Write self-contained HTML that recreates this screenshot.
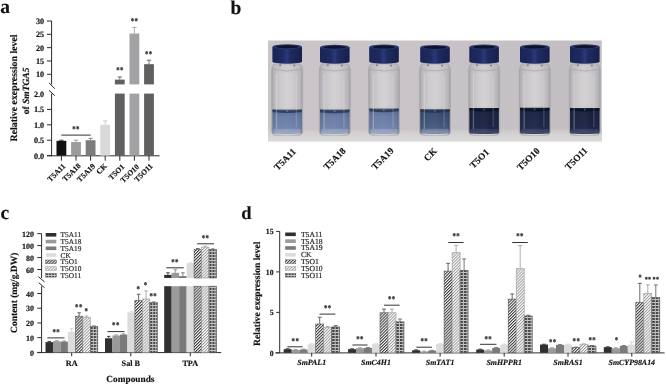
<!DOCTYPE html>
<html><head><meta charset="utf-8"><title>Figure</title>
<style>
html,body{margin:0;padding:0;background:#fff;}
svg{display:block;font-family:'Liberation Serif', serif;text-rendering:geometricPrecision;filter:blur(0.3px);}
svg text{stroke:#1a1a1a;stroke-width:0.16px;}
</style></head><body>
<svg width="666" height="385" viewBox="0 0 666 385">
<defs>
<pattern id="h1" patternUnits="userSpaceOnUse" width="2.1" height="2.1" patternTransform="rotate(45)"><rect width="2.1" height="2.1" fill="#f4f4f4"/><rect width="1.0" height="2.1" fill="#3a3a3a"/></pattern>
<pattern id="h2" patternUnits="userSpaceOnUse" width="2.1" height="2.1" patternTransform="rotate(45)"><rect width="2.1" height="2.1" fill="#f8f8f8"/><rect width="0.9" height="2.1" fill="#9a9a9a"/></pattern>
<pattern id="h3" patternUnits="userSpaceOnUse" width="2.6" height="3.0"><rect width="2.6" height="3.0" fill="#a4a4a4"/><rect x="0.4" y="0.5" width="1.7" height="1.8" fill="#4a4a4a"/></pattern>
<linearGradient id="bgPhoto" x1="0" y1="0" x2="1" y2="0"><stop offset="0" stop-color="#cac5c8"/><stop offset="0.5" stop-color="#c8c3c6"/><stop offset="1" stop-color="#c2bdc0"/></linearGradient>
<linearGradient id="bgTable" x1="0" y1="0" x2="0" y2="1"><stop offset="0" stop-color="#c5c0c2" stop-opacity="0"/><stop offset="0.3" stop-color="#d0cdce"/><stop offset="1" stop-color="#dcdbdb"/></linearGradient>
<linearGradient id="glass" x1="0" y1="0" x2="1" y2="0"><stop offset="0" stop-color="#a6a4a8"/><stop offset="0.1" stop-color="#bdbbbf"/><stop offset="0.3" stop-color="#c9c7c9"/><stop offset="0.5" stop-color="#cfcdce"/><stop offset="0.7" stop-color="#c8c6c8"/><stop offset="0.9" stop-color="#bbb9bd"/><stop offset="1" stop-color="#a5a3a7"/></linearGradient>
<linearGradient id="panel" x1="0" y1="0" x2="1" y2="0"><stop offset="0" stop-color="#eeeef0" stop-opacity="0"/><stop offset="0.3" stop-color="#eeeef0" stop-opacity="0.12"/><stop offset="0.7" stop-color="#eeeef0" stop-opacity="0.12"/><stop offset="1" stop-color="#eeeef0" stop-opacity="0"/></linearGradient>
<linearGradient id="liqShade" x1="0" y1="0" x2="1" y2="0"><stop offset="0" stop-color="#000" stop-opacity="0.12"/><stop offset="0.2" stop-color="#fff" stop-opacity="0.03"/><stop offset="0.5" stop-color="#fff" stop-opacity="0.05"/><stop offset="0.8" stop-color="#fff" stop-opacity="0.0"/><stop offset="1" stop-color="#000" stop-opacity="0.12"/></linearGradient>
<linearGradient id="neck" x1="0" y1="0" x2="1" y2="0"><stop offset="0" stop-color="#c0c0c4"/><stop offset="0.5" stop-color="#d6d6d9"/><stop offset="1" stop-color="#bcbcc0"/></linearGradient>
<linearGradient id="liqL" x1="0" y1="0" x2="0" y2="1"><stop offset="0" stop-color="#53668e"/><stop offset="0.3" stop-color="#6579a3"/><stop offset="0.8" stop-color="#6e82aa"/><stop offset="1" stop-color="#909cb8"/></linearGradient>
<linearGradient id="liqL2" x1="0" y1="0" x2="0" y2="1"><stop offset="0" stop-color="#2e4166"/><stop offset="0.3" stop-color="#374c74"/><stop offset="0.8" stop-color="#44597e"/><stop offset="1" stop-color="#7884a0"/></linearGradient>
<linearGradient id="liqD" x1="0" y1="0" x2="0" y2="1"><stop offset="0" stop-color="#141c38"/><stop offset="0.8" stop-color="#192244"/><stop offset="1" stop-color="#30385a"/></linearGradient>
<linearGradient id="liqD2" x1="0" y1="0" x2="0" y2="1"><stop offset="0" stop-color="#151e3c"/><stop offset="0.8" stop-color="#1b2548"/><stop offset="1" stop-color="#323b5c"/></linearGradient>
<linearGradient id="cap" x1="0" y1="0" x2="1" y2="0"><stop offset="0" stop-color="#1a2556"/><stop offset="0.35" stop-color="#1e2a60"/><stop offset="0.5" stop-color="#2b3a78"/><stop offset="0.6" stop-color="#1f2b62"/><stop offset="1" stop-color="#16204c"/></linearGradient>
</defs>
<defs><pattern id="g0" patternUnits="userSpaceOnUse" x="90.77" y="0" width="3" height="3"><rect width="3" height="3" fill="#c2c2c2"/><rect width="2" height="2" fill="#474747"/></pattern><pattern id="g1" patternUnits="userSpaceOnUse" x="150.27" y="0" width="3" height="3"><rect width="3" height="3" fill="#c2c2c2"/><rect width="2" height="2" fill="#474747"/></pattern><pattern id="g2" patternUnits="userSpaceOnUse" x="209.47" y="0" width="3" height="3"><rect width="3" height="3" fill="#c2c2c2"/><rect width="2" height="2" fill="#474747"/></pattern><pattern id="g3" patternUnits="userSpaceOnUse" x="209.47" y="0" width="3" height="3"><rect width="3" height="3" fill="#c2c2c2"/><rect width="2" height="2" fill="#474747"/></pattern><pattern id="g4" patternUnits="userSpaceOnUse" x="46.15" y="0" width="3" height="3"><rect width="3" height="3" fill="#c2c2c2"/><rect width="2" height="2" fill="#474747"/></pattern><pattern id="g5" patternUnits="userSpaceOnUse" x="332.15" y="0" width="3.5" height="3"><rect width="3.5" height="3" fill="#c2c2c2"/><rect width="2.5" height="2" fill="#474747"/></pattern><pattern id="g6" patternUnits="userSpaceOnUse" x="396.45" y="0" width="3.5" height="3"><rect width="3.5" height="3" fill="#c2c2c2"/><rect width="2.5" height="2" fill="#474747"/></pattern><pattern id="g7" patternUnits="userSpaceOnUse" x="460.55" y="0" width="3.5" height="3"><rect width="3.5" height="3" fill="#c2c2c2"/><rect width="2.5" height="2" fill="#474747"/></pattern><pattern id="g8" patternUnits="userSpaceOnUse" x="524.65" y="0" width="3.5" height="3"><rect width="3.5" height="3" fill="#c2c2c2"/><rect width="2.5" height="2" fill="#474747"/></pattern><pattern id="g9" patternUnits="userSpaceOnUse" x="588.45" y="0" width="3.5" height="3"><rect width="3.5" height="3" fill="#c2c2c2"/><rect width="2.5" height="2" fill="#474747"/></pattern><pattern id="g10" patternUnits="userSpaceOnUse" x="652.25" y="0" width="3.5" height="3"><rect width="3.5" height="3" fill="#c2c2c2"/><rect width="2.5" height="2" fill="#474747"/></pattern><pattern id="g11" patternUnits="userSpaceOnUse" x="285.65" y="0" width="3" height="3"><rect width="3" height="3" fill="#c2c2c2"/><rect width="2" height="2" fill="#474747"/></pattern></defs>
<rect width="666" height="385" fill="#fff"/>
<text x="0.3" y="12.7" font-size="19.5" font-weight="bold" text-anchor="start" fill="#111">a</text>
<line x1="51.6" y1="21" x2="51.6" y2="84.4" stroke="#2a2a2a" stroke-width="1.0"/>
<line x1="51.6" y1="93.6" x2="51.6" y2="156.2" stroke="#2a2a2a" stroke-width="1.0"/>
<line x1="49" y1="82.9" x2="54.8" y2="88.7" stroke="#2a2a2a" stroke-width="1.0"/>
<line x1="49" y1="90.3" x2="54.8" y2="95.7" stroke="#2a2a2a" stroke-width="1.0"/>
<line x1="47" y1="21" x2="51.6" y2="21" stroke="#2a2a2a" stroke-width="1.0"/>
<text x="44.2" y="23.9" font-size="8.2" font-weight="bold" text-anchor="end" fill="#111">30</text>
<line x1="47" y1="34.32" x2="51.6" y2="34.32" stroke="#2a2a2a" stroke-width="1.0"/>
<text x="44.2" y="37.22" font-size="8.2" font-weight="bold" text-anchor="end" fill="#111">25</text>
<line x1="47" y1="47.65" x2="51.6" y2="47.65" stroke="#2a2a2a" stroke-width="1.0"/>
<text x="44.2" y="50.55" font-size="8.2" font-weight="bold" text-anchor="end" fill="#111">20</text>
<line x1="47" y1="60.97" x2="51.6" y2="60.97" stroke="#2a2a2a" stroke-width="1.0"/>
<text x="44.2" y="63.87" font-size="8.2" font-weight="bold" text-anchor="end" fill="#111">15</text>
<line x1="47" y1="74.3" x2="51.6" y2="74.3" stroke="#2a2a2a" stroke-width="1.0"/>
<text x="44.2" y="77.2" font-size="8.2" font-weight="bold" text-anchor="end" fill="#111">10</text>
<text x="44.2" y="96.9" font-size="8.2" font-weight="bold" text-anchor="end" fill="#111">2.0</text>
<line x1="47" y1="109.4" x2="51.6" y2="109.4" stroke="#2a2a2a" stroke-width="1.0"/>
<text x="44.2" y="112.3" font-size="8.2" font-weight="bold" text-anchor="end" fill="#111">1.5</text>
<line x1="47" y1="124.8" x2="51.6" y2="124.8" stroke="#2a2a2a" stroke-width="1.0"/>
<text x="44.2" y="127.7" font-size="8.2" font-weight="bold" text-anchor="end" fill="#111">1.0</text>
<line x1="47" y1="140.2" x2="51.6" y2="140.2" stroke="#2a2a2a" stroke-width="1.0"/>
<text x="44.2" y="143.1" font-size="8.2" font-weight="bold" text-anchor="end" fill="#111">0.5</text>
<line x1="47" y1="155.6" x2="51.6" y2="155.6" stroke="#2a2a2a" stroke-width="1.0"/>
<text x="44.2" y="158.5" font-size="8.2" font-weight="bold" text-anchor="end" fill="#111">0.0</text>
<line x1="47" y1="155.8" x2="159.6" y2="155.8" stroke="#2a2a2a" stroke-width="1.0"/>
<line x1="61.4" y1="140.82" x2="61.4" y2="140.2" stroke="#333" stroke-width="0.9"/>
<line x1="59.2" y1="140.2" x2="63.6" y2="140.2" stroke="#333" stroke-width="0.9"/>
<rect x="56.5" y="140.82" width="9.8" height="14.78" fill="#111111"/>
<line x1="61.4" y1="155.8" x2="61.4" y2="160.7" stroke="#2a2a2a" stroke-width="1.0"/>
<text transform="translate(66,166.8) rotate(-45)" font-size="7.7" font-weight="bold" text-anchor="end" fill="#111">T5A11</text>
<line x1="76" y1="142.05" x2="76" y2="140.2" stroke="#9c9c9c" stroke-width="0.9"/>
<line x1="73.8" y1="140.2" x2="78.2" y2="140.2" stroke="#9c9c9c" stroke-width="0.9"/>
<rect x="71.1" y="142.05" width="9.8" height="13.55" fill="#9c9c9c"/>
<line x1="76" y1="155.8" x2="76" y2="160.7" stroke="#2a2a2a" stroke-width="1.0"/>
<text transform="translate(81.3,166.4) rotate(-45)" font-size="7.7" font-weight="bold" text-anchor="end" fill="#111">T5A18</text>
<line x1="90.6" y1="140.2" x2="90.6" y2="138.35" stroke="#7c7c7c" stroke-width="0.9"/>
<line x1="88.4" y1="138.35" x2="92.8" y2="138.35" stroke="#7c7c7c" stroke-width="0.9"/>
<rect x="85.7" y="140.2" width="9.8" height="15.4" fill="#7c7c7c"/>
<line x1="90.6" y1="155.8" x2="90.6" y2="160.7" stroke="#2a2a2a" stroke-width="1.0"/>
<text transform="translate(95.8,166.7) rotate(-45)" font-size="7.7" font-weight="bold" text-anchor="end" fill="#111">T5A19</text>
<line x1="105.2" y1="124.8" x2="105.2" y2="120.8" stroke="#c8c8c8" stroke-width="0.9"/>
<line x1="103" y1="120.8" x2="107.4" y2="120.8" stroke="#c8c8c8" stroke-width="0.9"/>
<rect x="100.3" y="124.8" width="9.8" height="30.8" fill="#d9d9d9"/>
<line x1="105.2" y1="155.8" x2="105.2" y2="160.7" stroke="#2a2a2a" stroke-width="1.0"/>
<text transform="translate(107.5,166.6) rotate(-45)" font-size="7.7" font-weight="bold" text-anchor="end" fill="#111">CK</text>
<rect x="114.9" y="93.6" width="9.8" height="62" fill="#606060"/>
<line x1="119.8" y1="79.63" x2="119.8" y2="76.97" stroke="#606060" stroke-width="0.9"/>
<line x1="117.6" y1="76.97" x2="122" y2="76.97" stroke="#606060" stroke-width="0.9"/>
<rect x="114.9" y="79.63" width="9.8" height="4.77" fill="#606060"/>
<line x1="119.8" y1="155.8" x2="119.8" y2="160.7" stroke="#2a2a2a" stroke-width="1.0"/>
<text transform="translate(125,167.2) rotate(-45)" font-size="7.7" font-weight="bold" text-anchor="end" fill="#111">T5O1</text>
<rect x="129.5" y="93.6" width="9.8" height="62" fill="#a2a2a4"/>
<line x1="134.4" y1="33.53" x2="134.4" y2="27.4" stroke="#a2a2a4" stroke-width="0.9"/>
<line x1="132.2" y1="27.4" x2="136.6" y2="27.4" stroke="#a2a2a4" stroke-width="0.9"/>
<rect x="129.5" y="33.53" width="9.8" height="50.87" fill="#a2a2a4"/>
<line x1="134.4" y1="155.8" x2="134.4" y2="160.7" stroke="#2a2a2a" stroke-width="1.0"/>
<text transform="translate(139.6,167.2) rotate(-45)" font-size="7.7" font-weight="bold" text-anchor="end" fill="#111">T5O10</text>
<rect x="144.1" y="93.6" width="9.8" height="62" fill="#606060"/>
<line x1="149" y1="64.17" x2="149" y2="60.18" stroke="#606060" stroke-width="0.9"/>
<line x1="146.8" y1="60.18" x2="151.2" y2="60.18" stroke="#606060" stroke-width="0.9"/>
<rect x="144.1" y="64.17" width="9.8" height="20.23" fill="#606060"/>
<line x1="149" y1="155.8" x2="149" y2="160.7" stroke="#2a2a2a" stroke-width="1.0"/>
<text transform="translate(153.2,166.7) rotate(-45)" font-size="7.7" font-weight="bold" text-anchor="end" fill="#111">T5O11</text>
<line x1="61.3" y1="135.1" x2="90.7" y2="135.1" stroke="#333" stroke-width="1.0"/>
<text transform="translate(76,132.25) scale(0.8,1.05)" font-size="8.5" font-weight="bold" text-anchor="middle" letter-spacing="0.5" fill="#333">**</text>
<text transform="translate(120,73.25) scale(0.8,1.05)" font-size="8.5" font-weight="bold" text-anchor="middle" letter-spacing="0.5" fill="#333">**</text>
<text transform="translate(134.5,23.85) scale(0.8,1.05)" font-size="8.5" font-weight="bold" text-anchor="middle" letter-spacing="0.5" fill="#333">**</text>
<text transform="translate(148.8,57.15) scale(0.8,1.05)" font-size="8.5" font-weight="bold" text-anchor="middle" letter-spacing="0.5" fill="#333">**</text>
<text transform="translate(16.9,87.9) rotate(-90)" font-size="9.85" font-weight="bold" text-anchor="middle" fill="#111">Relative exepression level</text>
<text transform="translate(28.5,90.9) rotate(-90)" font-size="9.5" font-weight="bold" text-anchor="middle" fill="#111">of <tspan font-style="italic">SmTGA5</tspan></text>
<text x="230.4" y="14" font-size="19.5" font-weight="bold" text-anchor="start" fill="#111">b</text>
<rect x="268" y="40.5" width="333.7" height="100.8" fill="url(#bgPhoto)"/>
<rect x="268" y="127" width="333.7" height="14.3" fill="url(#bgTable)"/>
<path d="M274.2,64 Q271.7,66 271.7,71 L271.7,131.2 Q271.7,135.2 276.2,135.2 L298.2,135.2 Q302.7,135.2 302.7,131.2 L302.7,71 Q302.7,66 300.2,64 Z" fill="url(#glass)" stroke="#a8a7ab" stroke-width="0.8"/>
<path d="M273.7,69.5 Q287.2,72.5 300.7,69.5" fill="none" stroke="#a0a0a6" stroke-width="0.8" opacity="0.8"/>
<rect x="279.2" y="64.5" width="2" height="1.6" fill="#5a5a66" opacity="0.6"/><rect x="293.2" y="64.8" width="2" height="1.6" fill="#5a5a66" opacity="0.6"/>
<rect x="275.2" y="73" width="24" height="34.4" fill="url(#panel)"/>
<path d="M272.5,109.4 L301.9,109.4 L301.9,131.2 Q301.9,134 298.2,134 L276.2,134 Q272.5,134 272.5,131.2 Z" fill="url(#liqL)"/>
<rect x="272.5" y="109.4" width="29.4" height="24.6" fill="url(#liqShade)"/>
<path d="M272.5,109.4 Q287.2,111.4 301.9,109.4 L301.9,112 Q287.2,114 272.5,112 Z" fill="#243046" opacity="0.75"/>
<rect x="273.2" y="128.7" width="28" height="4.6" rx="2" fill="#dfe3ec" opacity="0.22"/>
<rect x="286.4" y="110.4" width="1.4" height="1.4" fill="#e8ecf4" opacity="0.35"/>
<rect x="275.9" y="74" width="1.3" height="55.2" fill="#f4f4f6" opacity="0.28"/>
<rect x="295.7" y="76" width="1.1" height="51.2" fill="#f4f4f6" opacity="0.22"/>
<path d="M274.2,133.8 Q287.2,135.8 300.2,133.8" fill="none" stroke="#e6e8ee" stroke-width="0.9" opacity="0.6"/>
<path d="M272.4,46.7 L272.4,61.4 A14.8 2.3 0 0 0 302,61.4 L302,46.7 Z" fill="url(#cap)"/>
<ellipse cx="287.2" cy="46.7" rx="14.6" ry="2.4" fill="#2a386e"/>
<ellipse cx="287.2" cy="46.8" rx="11.5" ry="1.5" fill="#0a0e22" opacity="0.9"/>
<path d="M321.8,64 Q319.3,66 319.3,71 L319.3,131.2 Q319.3,135.2 323.8,135.2 L345.8,135.2 Q350.3,135.2 350.3,131.2 L350.3,71 Q350.3,66 347.8,64 Z" fill="url(#glass)" stroke="#a8a7ab" stroke-width="0.8"/>
<path d="M321.3,69.5 Q334.8,72.5 348.3,69.5" fill="none" stroke="#a0a0a6" stroke-width="0.8" opacity="0.8"/>
<rect x="326.8" y="64.5" width="2" height="1.6" fill="#5a5a66" opacity="0.6"/><rect x="340.8" y="64.8" width="2" height="1.6" fill="#5a5a66" opacity="0.6"/>
<rect x="322.8" y="73" width="24" height="34.6" fill="url(#panel)"/>
<path d="M320.1,109.6 L349.5,109.6 L349.5,131.2 Q349.5,134 345.8,134 L323.8,134 Q320.1,134 320.1,131.2 Z" fill="url(#liqL)"/>
<rect x="320.1" y="109.6" width="29.4" height="24.4" fill="url(#liqShade)"/>
<path d="M320.1,109.6 Q334.8,111.6 349.5,109.6 L349.5,112.2 Q334.8,114.2 320.1,112.2 Z" fill="#243046" opacity="0.75"/>
<rect x="320.8" y="128.7" width="28" height="4.6" rx="2" fill="#dfe3ec" opacity="0.22"/>
<rect x="334" y="110.6" width="1.4" height="1.4" fill="#e8ecf4" opacity="0.35"/>
<rect x="323.5" y="74" width="1.3" height="55.2" fill="#f4f4f6" opacity="0.28"/>
<rect x="343.3" y="76" width="1.1" height="51.2" fill="#f4f4f6" opacity="0.22"/>
<path d="M321.8,133.8 Q334.8,135.8 347.8,133.8" fill="none" stroke="#e6e8ee" stroke-width="0.9" opacity="0.6"/>
<path d="M320,47.2 L320,61.4 A14.8 2.3 0 0 0 349.6,61.4 L349.6,47.2 Z" fill="url(#cap)"/>
<ellipse cx="334.8" cy="47.2" rx="14.6" ry="2.4" fill="#2a386e"/>
<ellipse cx="334.8" cy="47.3" rx="11.5" ry="1.5" fill="#0a0e22" opacity="0.9"/>
<path d="M371,64 Q368.5,66 368.5,71 L368.5,131.2 Q368.5,135.2 373,135.2 L395,135.2 Q399.5,135.2 399.5,131.2 L399.5,71 Q399.5,66 397,64 Z" fill="url(#glass)" stroke="#a8a7ab" stroke-width="0.8"/>
<path d="M370.5,69.5 Q384,72.5 397.5,69.5" fill="none" stroke="#a0a0a6" stroke-width="0.8" opacity="0.8"/>
<rect x="376" y="64.5" width="2" height="1.6" fill="#5a5a66" opacity="0.6"/><rect x="390" y="64.8" width="2" height="1.6" fill="#5a5a66" opacity="0.6"/>
<rect x="372" y="73" width="24" height="33.6" fill="url(#panel)"/>
<path d="M369.3,108.6 L398.7,108.6 L398.7,131.2 Q398.7,134 395,134 L373,134 Q369.3,134 369.3,131.2 Z" fill="url(#liqL)"/>
<rect x="369.3" y="108.6" width="29.4" height="25.4" fill="url(#liqShade)"/>
<path d="M369.3,108.6 Q384,110.6 398.7,108.6 L398.7,111.2 Q384,113.2 369.3,111.2 Z" fill="#243046" opacity="0.75"/>
<rect x="370" y="128.7" width="28" height="4.6" rx="2" fill="#dfe3ec" opacity="0.22"/>
<rect x="383.2" y="109.6" width="1.4" height="1.4" fill="#e8ecf4" opacity="0.35"/>
<rect x="372.7" y="74" width="1.3" height="55.2" fill="#f4f4f6" opacity="0.28"/>
<rect x="392.5" y="76" width="1.1" height="51.2" fill="#f4f4f6" opacity="0.22"/>
<path d="M371,133.8 Q384,135.8 397,133.8" fill="none" stroke="#e6e8ee" stroke-width="0.9" opacity="0.6"/>
<path d="M369.2,47 L369.2,61.4 A14.8 2.3 0 0 0 398.8,61.4 L398.8,47 Z" fill="url(#cap)"/>
<ellipse cx="384" cy="47" rx="14.6" ry="2.4" fill="#2a386e"/>
<ellipse cx="384" cy="47.1" rx="11.5" ry="1.5" fill="#0a0e22" opacity="0.9"/>
<path d="M422,64 Q419.5,66 419.5,71 L419.5,131.2 Q419.5,135.2 424,135.2 L446,135.2 Q450.5,135.2 450.5,131.2 L450.5,71 Q450.5,66 448,64 Z" fill="url(#glass)" stroke="#a8a7ab" stroke-width="0.8"/>
<path d="M421.5,69.5 Q435,72.5 448.5,69.5" fill="none" stroke="#a0a0a6" stroke-width="0.8" opacity="0.8"/>
<rect x="427" y="64.5" width="2" height="1.6" fill="#5a5a66" opacity="0.6"/><rect x="441" y="64.8" width="2" height="1.6" fill="#5a5a66" opacity="0.6"/>
<rect x="423" y="73" width="24" height="34.2" fill="url(#panel)"/>
<path d="M420.3,109.2 L449.7,109.2 L449.7,131.2 Q449.7,134 446,134 L424,134 Q420.3,134 420.3,131.2 Z" fill="url(#liqL2)"/>
<rect x="420.3" y="109.2" width="29.4" height="24.8" fill="url(#liqShade)"/>
<path d="M420.3,109.2 Q435,111.2 449.7,109.2 L449.7,111.8 Q435,113.8 420.3,111.8 Z" fill="#243046" opacity="0.75"/>
<rect x="421" y="128.7" width="28" height="4.6" rx="2" fill="#dfe3ec" opacity="0.22"/>
<rect x="434.2" y="110.2" width="1.4" height="1.4" fill="#e8ecf4" opacity="0.35"/>
<rect x="423.7" y="74" width="1.3" height="55.2" fill="#f4f4f6" opacity="0.28"/>
<rect x="443.5" y="76" width="1.1" height="51.2" fill="#f4f4f6" opacity="0.22"/>
<path d="M422,133.8 Q435,135.8 448,133.8" fill="none" stroke="#e6e8ee" stroke-width="0.9" opacity="0.6"/>
<path d="M420.2,47.3 L420.2,61.4 A14.8 2.3 0 0 0 449.8,61.4 L449.8,47.3 Z" fill="url(#cap)"/>
<ellipse cx="435" cy="47.3" rx="14.6" ry="2.4" fill="#2a386e"/>
<ellipse cx="435" cy="47.4" rx="11.5" ry="1.5" fill="#0a0e22" opacity="0.9"/>
<path d="M471.1,64 Q468.6,66 468.6,71 L468.6,131.2 Q468.6,135.2 473.1,135.2 L495.1,135.2 Q499.6,135.2 499.6,131.2 L499.6,71 Q499.6,66 497.1,64 Z" fill="url(#glass)" stroke="#a8a7ab" stroke-width="0.8"/>
<path d="M470.6,69.5 Q484.1,72.5 497.6,69.5" fill="none" stroke="#a0a0a6" stroke-width="0.8" opacity="0.8"/>
<rect x="476.1" y="64.5" width="2" height="1.6" fill="#5a5a66" opacity="0.6"/><rect x="490.1" y="64.8" width="2" height="1.6" fill="#5a5a66" opacity="0.6"/>
<rect x="472.1" y="73" width="24" height="32.9" fill="url(#panel)"/>
<path d="M469.4,107.9 L498.8,107.9 L498.8,131.2 Q498.8,134 495.1,134 L473.1,134 Q469.4,134 469.4,131.2 Z" fill="url(#liqD)"/>
<rect x="469.4" y="107.9" width="29.4" height="26.1" fill="url(#liqShade)"/>
<path d="M469.4,107.9 Q484.1,109.9 498.8,107.9 L498.8,110.5 Q484.1,112.5 469.4,110.5 Z" fill="#0a0f20" opacity="0.75"/>
<rect x="470.1" y="128.7" width="28" height="4.6" rx="2" fill="#dfe3ec" opacity="0.1"/>
<rect x="483.3" y="108.9" width="1.4" height="1.4" fill="#e8ecf4" opacity="0.35"/>
<rect x="472.8" y="74" width="1.3" height="55.2" fill="#f4f4f6" opacity="0.28"/>
<rect x="492.6" y="76" width="1.1" height="51.2" fill="#f4f4f6" opacity="0.22"/>
<path d="M471.1,133.8 Q484.1,135.8 497.1,133.8" fill="none" stroke="#e6e8ee" stroke-width="0.9" opacity="0.6"/>
<path d="M469.3,47 L469.3,61.4 A14.8 2.3 0 0 0 498.9,61.4 L498.9,47 Z" fill="url(#cap)"/>
<ellipse cx="484.1" cy="47" rx="14.6" ry="2.4" fill="#2a386e"/>
<ellipse cx="484.1" cy="47.1" rx="11.5" ry="1.5" fill="#0a0e22" opacity="0.9"/>
<path d="M521.8,64 Q519.3,66 519.3,71 L519.3,131.2 Q519.3,135.2 523.8,135.2 L545.8,135.2 Q550.3,135.2 550.3,131.2 L550.3,71 Q550.3,66 547.8,64 Z" fill="url(#glass)" stroke="#a8a7ab" stroke-width="0.8"/>
<path d="M521.3,69.5 Q534.8,72.5 548.3,69.5" fill="none" stroke="#a0a0a6" stroke-width="0.8" opacity="0.8"/>
<rect x="526.8" y="64.5" width="2" height="1.6" fill="#5a5a66" opacity="0.6"/><rect x="540.8" y="64.8" width="2" height="1.6" fill="#5a5a66" opacity="0.6"/>
<rect x="522.8" y="73" width="24" height="32.8" fill="url(#panel)"/>
<path d="M520.1,107.8 L549.5,107.8 L549.5,131.2 Q549.5,134 545.8,134 L523.8,134 Q520.1,134 520.1,131.2 Z" fill="url(#liqD2)"/>
<rect x="520.1" y="107.8" width="29.4" height="26.2" fill="url(#liqShade)"/>
<path d="M520.1,107.8 Q534.8,109.8 549.5,107.8 L549.5,110.4 Q534.8,112.4 520.1,110.4 Z" fill="#0a0f20" opacity="0.75"/>
<rect x="520.8" y="128.7" width="28" height="4.6" rx="2" fill="#dfe3ec" opacity="0.1"/>
<rect x="534" y="108.8" width="1.4" height="1.4" fill="#e8ecf4" opacity="0.35"/>
<rect x="523.5" y="74" width="1.3" height="55.2" fill="#f4f4f6" opacity="0.28"/>
<rect x="543.3" y="76" width="1.1" height="51.2" fill="#f4f4f6" opacity="0.22"/>
<path d="M521.8,133.8 Q534.8,135.8 547.8,133.8" fill="none" stroke="#e6e8ee" stroke-width="0.9" opacity="0.6"/>
<path d="M520,47 L520,61.4 A14.8 2.3 0 0 0 549.6,61.4 L549.6,47 Z" fill="url(#cap)"/>
<ellipse cx="534.8" cy="47" rx="14.6" ry="2.4" fill="#2a386e"/>
<ellipse cx="534.8" cy="47.1" rx="11.5" ry="1.5" fill="#0a0e22" opacity="0.9"/>
<path d="M571.8,64 Q569.3,66 569.3,71 L569.3,131.2 Q569.3,135.2 573.8,135.2 L595.8,135.2 Q600.3,135.2 600.3,131.2 L600.3,71 Q600.3,66 597.8,64 Z" fill="url(#glass)" stroke="#a8a7ab" stroke-width="0.8"/>
<path d="M571.3,69.5 Q584.8,72.5 598.3,69.5" fill="none" stroke="#a0a0a6" stroke-width="0.8" opacity="0.8"/>
<rect x="576.8" y="64.5" width="2" height="1.6" fill="#5a5a66" opacity="0.6"/><rect x="590.8" y="64.8" width="2" height="1.6" fill="#5a5a66" opacity="0.6"/>
<rect x="572.8" y="73" width="24" height="32.9" fill="url(#panel)"/>
<path d="M570.1,107.9 L599.5,107.9 L599.5,131.2 Q599.5,134 595.8,134 L573.8,134 Q570.1,134 570.1,131.2 Z" fill="url(#liqD)"/>
<rect x="570.1" y="107.9" width="29.4" height="26.1" fill="url(#liqShade)"/>
<path d="M570.1,107.9 Q584.8,109.9 599.5,107.9 L599.5,110.5 Q584.8,112.5 570.1,110.5 Z" fill="#0a0f20" opacity="0.75"/>
<rect x="570.8" y="128.7" width="28" height="4.6" rx="2" fill="#dfe3ec" opacity="0.1"/>
<rect x="584" y="108.9" width="1.4" height="1.4" fill="#e8ecf4" opacity="0.35"/>
<rect x="573.5" y="74" width="1.3" height="55.2" fill="#f4f4f6" opacity="0.28"/>
<rect x="593.3" y="76" width="1.1" height="51.2" fill="#f4f4f6" opacity="0.22"/>
<path d="M571.8,133.8 Q584.8,135.8 597.8,133.8" fill="none" stroke="#e6e8ee" stroke-width="0.9" opacity="0.6"/>
<path d="M570,46.6 L570,61.4 A14.8 2.3 0 0 0 599.6,61.4 L599.6,46.6 Z" fill="url(#cap)"/>
<ellipse cx="584.8" cy="46.6" rx="14.6" ry="2.4" fill="#2a386e"/>
<ellipse cx="584.8" cy="46.7" rx="11.5" ry="1.5" fill="#0a0e22" opacity="0.9"/>
<text transform="translate(296.5,152.2) rotate(-45)" font-size="9.4" font-weight="bold" text-anchor="end" fill="#111">T5A11</text>
<text transform="translate(346.4,151.4) rotate(-45)" font-size="9.4" font-weight="bold" text-anchor="end" fill="#111">T5A18</text>
<text transform="translate(394.3,151.3) rotate(-45)" font-size="9.4" font-weight="bold" text-anchor="end" fill="#111">T5A19</text>
<text transform="translate(437.5,151.7) rotate(-45)" font-size="9.4" font-weight="bold" text-anchor="end" fill="#111">CK</text>
<text transform="translate(489.7,152.8) rotate(-45)" font-size="9.4" font-weight="bold" text-anchor="end" fill="#111">T5O1</text>
<text transform="translate(540.3,151.5) rotate(-45)" font-size="9.4" font-weight="bold" text-anchor="end" fill="#111">T5O10</text>
<text transform="translate(588,151.3) rotate(-45)" font-size="9.4" font-weight="bold" text-anchor="end" fill="#111">T5O11</text>
<text x="0.6" y="218.9" font-size="19.5" font-weight="bold" text-anchor="start" fill="#111">c</text>
<line x1="41.6" y1="233.8" x2="41.6" y2="278" stroke="#2a2a2a" stroke-width="1.0"/>
<line x1="41.6" y1="286.2" x2="41.6" y2="352.8" stroke="#2a2a2a" stroke-width="1.0"/>
<line x1="38.4" y1="276.7" x2="44.6" y2="281.9" stroke="#2a2a2a" stroke-width="1.0"/>
<line x1="38.8" y1="282.7" x2="44.6" y2="287.8" stroke="#2a2a2a" stroke-width="1.0"/>
<line x1="37.3" y1="233.65" x2="41.6" y2="233.65" stroke="#2a2a2a" stroke-width="1.0"/>
<text x="34" y="236.85" font-size="8.0" font-weight="bold" text-anchor="end" fill="#111">120</text>
<line x1="37.3" y1="245.6" x2="41.6" y2="245.6" stroke="#2a2a2a" stroke-width="1.0"/>
<text x="34" y="248.8" font-size="8.0" font-weight="bold" text-anchor="end" fill="#111">100</text>
<line x1="37.3" y1="257.55" x2="41.6" y2="257.55" stroke="#2a2a2a" stroke-width="1.0"/>
<text x="34" y="260.75" font-size="8.0" font-weight="bold" text-anchor="end" fill="#111">80</text>
<line x1="37.3" y1="269.5" x2="41.6" y2="269.5" stroke="#2a2a2a" stroke-width="1.0"/>
<text x="34" y="272.7" font-size="8.0" font-weight="bold" text-anchor="end" fill="#111">60</text>
<line x1="37.3" y1="293.52" x2="41.6" y2="293.52" stroke="#2a2a2a" stroke-width="1.0"/>
<text x="34" y="296.72" font-size="8.0" font-weight="bold" text-anchor="end" fill="#111">40</text>
<line x1="37.3" y1="308.24" x2="41.6" y2="308.24" stroke="#2a2a2a" stroke-width="1.0"/>
<text x="34" y="311.44" font-size="8.0" font-weight="bold" text-anchor="end" fill="#111">30</text>
<line x1="37.3" y1="322.96" x2="41.6" y2="322.96" stroke="#2a2a2a" stroke-width="1.0"/>
<text x="34" y="326.16" font-size="8.0" font-weight="bold" text-anchor="end" fill="#111">20</text>
<line x1="37.3" y1="337.68" x2="41.6" y2="337.68" stroke="#2a2a2a" stroke-width="1.0"/>
<text x="34" y="340.88" font-size="8.0" font-weight="bold" text-anchor="end" fill="#111">10</text>
<line x1="37.3" y1="352.4" x2="41.6" y2="352.4" stroke="#2a2a2a" stroke-width="1.0"/>
<text x="34" y="355.6" font-size="8.0" font-weight="bold" text-anchor="end" fill="#111">0</text>
<line x1="37.3" y1="352.6" x2="221.2" y2="352.6" stroke="#2a2a2a" stroke-width="1.0"/>
<line x1="49.23" y1="342.1" x2="49.23" y2="341.51" stroke="#222" stroke-width="0.8"/>
<line x1="47.44" y1="341.51" x2="51.03" y2="341.51" stroke="#222" stroke-width="0.8"/>
<rect x="45.5" y="342.1" width="7.47" height="10.3" fill="#303030"/>
<line x1="56.7" y1="341.21" x2="56.7" y2="340.62" stroke="#888" stroke-width="0.8"/>
<line x1="54.91" y1="340.62" x2="58.5" y2="340.62" stroke="#888" stroke-width="0.8"/>
<rect x="52.97" y="341.21" width="7.47" height="11.19" fill="#9a9a9a"/>
<line x1="64.17" y1="341.65" x2="64.17" y2="341.07" stroke="#666" stroke-width="0.8"/>
<line x1="62.38" y1="341.07" x2="65.97" y2="341.07" stroke="#666" stroke-width="0.8"/>
<rect x="60.44" y="341.65" width="7.47" height="10.75" fill="#7a7a7a"/>
<line x1="71.64" y1="331.79" x2="71.64" y2="328.7" stroke="#c8c8c8" stroke-width="0.8"/>
<line x1="69.84" y1="328.7" x2="73.44" y2="328.7" stroke="#c8c8c8" stroke-width="0.8"/>
<rect x="67.91" y="331.79" width="7.47" height="20.61" fill="#dcdcdc"/>
<line x1="79.11" y1="316.19" x2="79.11" y2="312.8" stroke="#444" stroke-width="0.8"/>
<line x1="77.31" y1="312.8" x2="80.91" y2="312.8" stroke="#444" stroke-width="0.8"/>
<rect x="75.38" y="316.19" width="7.47" height="36.21" fill="url(#h1)" stroke="#555" stroke-width="0.6"/>
<line x1="86.58" y1="317.37" x2="86.58" y2="316.04" stroke="#999" stroke-width="0.8"/>
<line x1="84.78" y1="316.04" x2="88.38" y2="316.04" stroke="#999" stroke-width="0.8"/>
<rect x="82.85" y="317.37" width="7.47" height="35.03" fill="url(#h2)" stroke="#9a9a9a" stroke-width="0.6"/>
<line x1="94.05" y1="326.49" x2="94.05" y2="325.9" stroke="#555" stroke-width="0.8"/>
<line x1="92.25" y1="325.9" x2="95.85" y2="325.9" stroke="#555" stroke-width="0.8"/>
<rect x="90.32" y="326.49" width="7.47" height="25.91" fill="url(#g0)" stroke="#555" stroke-width="0.6"/>
<line x1="108.73" y1="338.27" x2="108.73" y2="336.36" stroke="#222" stroke-width="0.8"/>
<line x1="106.94" y1="336.36" x2="110.53" y2="336.36" stroke="#222" stroke-width="0.8"/>
<rect x="105" y="338.27" width="7.47" height="14.13" fill="#303030"/>
<line x1="116.2" y1="335.47" x2="116.2" y2="334.88" stroke="#888" stroke-width="0.8"/>
<line x1="114.41" y1="334.88" x2="118" y2="334.88" stroke="#888" stroke-width="0.8"/>
<rect x="112.47" y="335.47" width="7.47" height="16.93" fill="#9a9a9a"/>
<line x1="123.67" y1="334.59" x2="123.67" y2="334" stroke="#666" stroke-width="0.8"/>
<line x1="121.88" y1="334" x2="125.47" y2="334" stroke="#666" stroke-width="0.8"/>
<rect x="119.94" y="334.59" width="7.47" height="17.81" fill="#7a7a7a"/>
<line x1="131.15" y1="312.36" x2="131.15" y2="311.77" stroke="#c8c8c8" stroke-width="0.8"/>
<line x1="129.34" y1="311.77" x2="132.95" y2="311.77" stroke="#c8c8c8" stroke-width="0.8"/>
<rect x="127.41" y="312.36" width="7.47" height="40.04" fill="#dcdcdc"/>
<line x1="138.62" y1="300.44" x2="138.62" y2="294.26" stroke="#444" stroke-width="0.8"/>
<line x1="136.81" y1="294.26" x2="140.42" y2="294.26" stroke="#444" stroke-width="0.8"/>
<rect x="134.88" y="300.44" width="7.47" height="51.96" fill="url(#h1)" stroke="#555" stroke-width="0.6"/>
<line x1="146.09" y1="298.97" x2="146.09" y2="290.87" stroke="#999" stroke-width="0.8"/>
<line x1="144.28" y1="290.87" x2="147.89" y2="290.87" stroke="#999" stroke-width="0.8"/>
<rect x="142.35" y="298.97" width="7.47" height="53.43" fill="url(#h2)" stroke="#9a9a9a" stroke-width="0.6"/>
<line x1="153.56" y1="302.65" x2="153.56" y2="301.91" stroke="#555" stroke-width="0.8"/>
<line x1="151.75" y1="301.91" x2="155.36" y2="301.91" stroke="#555" stroke-width="0.8"/>
<rect x="149.82" y="302.65" width="7.47" height="49.75" fill="url(#g1)" stroke="#555" stroke-width="0.6"/>
<rect x="164.2" y="286.2" width="7.47" height="66.2" fill="#303030"/>
<line x1="167.94" y1="274.88" x2="167.94" y2="272.79" stroke="#222" stroke-width="0.8"/>
<line x1="166.13" y1="272.79" x2="169.74" y2="272.79" stroke="#222" stroke-width="0.8"/>
<rect x="164.2" y="274.88" width="7.47" height="3.12" fill="#303030"/>
<rect x="171.67" y="286.2" width="7.47" height="66.2" fill="#9a9a9a"/>
<line x1="175.41" y1="272.79" x2="175.41" y2="269.68" stroke="#888" stroke-width="0.8"/>
<line x1="173.6" y1="269.68" x2="177.21" y2="269.68" stroke="#888" stroke-width="0.8"/>
<rect x="171.67" y="272.79" width="7.47" height="5.21" fill="#9a9a9a"/>
<rect x="179.14" y="286.2" width="7.47" height="66.2" fill="#7a7a7a"/>
<line x1="182.88" y1="276.07" x2="182.88" y2="272.79" stroke="#666" stroke-width="0.8"/>
<line x1="181.07" y1="272.79" x2="184.68" y2="272.79" stroke="#666" stroke-width="0.8"/>
<rect x="179.14" y="276.07" width="7.47" height="1.93" fill="#7a7a7a"/>
<rect x="186.61" y="286.2" width="7.47" height="66.2" fill="#dcdcdc"/>
<line x1="190.34" y1="263.23" x2="190.34" y2="262.93" stroke="#c8c8c8" stroke-width="0.8"/>
<line x1="188.54" y1="262.93" x2="192.15" y2="262.93" stroke="#c8c8c8" stroke-width="0.8"/>
<rect x="186.61" y="263.23" width="7.47" height="14.77" fill="#dcdcdc"/>
<rect x="194.08" y="286.2" width="7.47" height="66.2" fill="url(#h1)" stroke="#555" stroke-width="0.6"/>
<line x1="197.81" y1="249.48" x2="197.81" y2="248.59" stroke="#444" stroke-width="0.8"/>
<line x1="196.01" y1="248.59" x2="199.62" y2="248.59" stroke="#444" stroke-width="0.8"/>
<rect x="194.08" y="249.48" width="7.47" height="28.52" fill="url(#h1)" stroke="#555" stroke-width="0.6"/>
<rect x="201.55" y="286.2" width="7.47" height="66.2" fill="url(#h2)" stroke="#9a9a9a" stroke-width="0.6"/>
<line x1="205.28" y1="247.09" x2="205.28" y2="246.2" stroke="#999" stroke-width="0.8"/>
<line x1="203.48" y1="246.2" x2="207.09" y2="246.2" stroke="#999" stroke-width="0.8"/>
<rect x="201.55" y="247.09" width="7.47" height="30.91" fill="url(#h2)" stroke="#9a9a9a" stroke-width="0.6"/>
<rect x="209.02" y="286.2" width="7.47" height="66.2" fill="url(#g2)" stroke="#555" stroke-width="0.6"/>
<line x1="212.75" y1="249.48" x2="212.75" y2="248.89" stroke="#555" stroke-width="0.8"/>
<line x1="210.95" y1="248.89" x2="214.56" y2="248.89" stroke="#555" stroke-width="0.8"/>
<rect x="209.02" y="249.48" width="7.47" height="28.52" fill="url(#g3)" stroke="#555" stroke-width="0.6"/>
<line x1="71.7" y1="352.6" x2="71.7" y2="356.3" stroke="#2a2a2a" stroke-width="1.0"/>
<text x="71.7" y="366.1" font-size="8.2" font-weight="bold" text-anchor="middle" fill="#111">RA</text>
<line x1="130.8" y1="352.6" x2="130.8" y2="356.3" stroke="#2a2a2a" stroke-width="1.0"/>
<text x="130.8" y="366.1" font-size="8.2" font-weight="bold" text-anchor="middle" fill="#111">Sal B</text>
<line x1="190.3" y1="352.6" x2="190.3" y2="356.3" stroke="#2a2a2a" stroke-width="1.0"/>
<text x="190.3" y="366.1" font-size="8.2" font-weight="bold" text-anchor="middle" fill="#111">TPA</text>
<text x="130.4" y="382.2" font-size="9.3" font-weight="bold" text-anchor="middle" fill="#111">Compounds</text>
<line x1="47.3" y1="337.9" x2="64.5" y2="337.9" stroke="#333" stroke-width="1.0"/>
<text transform="translate(56.3,334.85) scale(0.8,1.05)" font-size="8.5" font-weight="bold" text-anchor="middle" letter-spacing="0.5" fill="#333">**</text>
<text transform="translate(78.9,309.85) scale(0.8,1.05)" font-size="8.5" font-weight="bold" text-anchor="middle" letter-spacing="0.5" fill="#333">**</text>
<text transform="translate(86.4,313.55) scale(0.8,1.05)" font-size="8.5" font-weight="bold" text-anchor="middle" letter-spacing="0.5" fill="#333">*</text>
<line x1="107.4" y1="331.6" x2="124.5" y2="331.6" stroke="#333" stroke-width="1.0"/>
<text transform="translate(115.9,328.45) scale(0.8,1.05)" font-size="8.5" font-weight="bold" text-anchor="middle" letter-spacing="0.5" fill="#333">**</text>
<text transform="translate(138.3,292.05) scale(0.8,1.05)" font-size="8.5" font-weight="bold" text-anchor="middle" letter-spacing="0.5" fill="#333">*</text>
<text transform="translate(145.6,288.05) scale(0.8,1.05)" font-size="8.5" font-weight="bold" text-anchor="middle" letter-spacing="0.5" fill="#333">*</text>
<text transform="translate(153.2,299.25) scale(0.8,1.05)" font-size="8.5" font-weight="bold" text-anchor="middle" letter-spacing="0.5" fill="#333">**</text>
<line x1="166.3" y1="267.8" x2="183.7" y2="267.8" stroke="#333" stroke-width="1.0"/>
<text transform="translate(175,265.25) scale(0.8,1.05)" font-size="8.5" font-weight="bold" text-anchor="middle" letter-spacing="0.5" fill="#333">**</text>
<line x1="197.2" y1="243.8" x2="214.1" y2="243.8" stroke="#333" stroke-width="1.0"/>
<text transform="translate(205.6,241.05) scale(0.8,1.05)" font-size="8.5" font-weight="bold" text-anchor="middle" letter-spacing="0.5" fill="#333">**</text>
<rect x="45.7" y="233" width="10.6" height="3.6" fill="#303030"/>
<text x="60.6" y="237.3" font-size="7.35" font-weight="normal" text-anchor="start" fill="#1a1a1a" stroke="#1a1a1a" stroke-width="0.22">T5A11</text>
<rect x="45.7" y="239.75" width="10.6" height="3.6" fill="#9a9a9a"/>
<text x="60.6" y="244.05" font-size="7.35" font-weight="normal" text-anchor="start" fill="#1a1a1a" stroke="#1a1a1a" stroke-width="0.22">T5A18</text>
<rect x="45.7" y="246.5" width="10.6" height="3.6" fill="#7a7a7a"/>
<text x="60.6" y="250.8" font-size="7.35" font-weight="normal" text-anchor="start" fill="#1a1a1a" stroke="#1a1a1a" stroke-width="0.22">T5A19</text>
<rect x="45.7" y="253.25" width="10.6" height="3.6" fill="#dcdcdc"/>
<text x="60.6" y="257.55" font-size="7.35" font-weight="normal" text-anchor="start" fill="#1a1a1a" stroke="#1a1a1a" stroke-width="0.22">CK</text>
<rect x="45.7" y="260" width="10.6" height="3.6" fill="url(#h1)" stroke="#555" stroke-width="0.5"/>
<text x="60.6" y="264.3" font-size="7.35" font-weight="normal" text-anchor="start" fill="#1a1a1a" stroke="#1a1a1a" stroke-width="0.22">T5O1</text>
<rect x="45.7" y="266.75" width="10.6" height="3.6" fill="url(#h2)" stroke="#9a9a9a" stroke-width="0.5"/>
<text x="60.6" y="271.05" font-size="7.35" font-weight="normal" text-anchor="start" fill="#1a1a1a" stroke="#1a1a1a" stroke-width="0.22">T5O10</text>
<rect x="45.7" y="273.5" width="10.6" height="3.6" fill="url(#g4)" stroke="#555" stroke-width="0.5"/>
<text x="60.6" y="277.8" font-size="7.35" font-weight="normal" text-anchor="start" fill="#1a1a1a" stroke="#1a1a1a" stroke-width="0.22">T5O11</text>
<text transform="translate(17.0,292.8) rotate(-90)" font-size="9.5" font-weight="bold" text-anchor="middle" fill="#111">Content (mg/g.DW)</text>
<text x="241.3" y="218.6" font-size="18.5" font-weight="bold" text-anchor="start" fill="#111">d</text>
<line x1="279.7" y1="231.4" x2="279.7" y2="353" stroke="#2a2a2a" stroke-width="1.0"/>
<line x1="276.2" y1="231.45" x2="279.7" y2="231.45" stroke="#2a2a2a" stroke-width="1.0"/>
<text x="273.6" y="234.15" font-size="7.8" font-weight="bold" text-anchor="end" fill="#111">15</text>
<line x1="276.2" y1="271.9" x2="279.7" y2="271.9" stroke="#2a2a2a" stroke-width="1.0"/>
<text x="273.6" y="274.6" font-size="7.8" font-weight="bold" text-anchor="end" fill="#111">10</text>
<line x1="276.2" y1="312.35" x2="279.7" y2="312.35" stroke="#2a2a2a" stroke-width="1.0"/>
<text x="273.6" y="315.05" font-size="7.8" font-weight="bold" text-anchor="end" fill="#111">5</text>
<line x1="276.2" y1="352.8" x2="279.7" y2="352.8" stroke="#2a2a2a" stroke-width="1.0"/>
<text x="273.6" y="355.5" font-size="7.8" font-weight="bold" text-anchor="end" fill="#111">0</text>
<line x1="275.2" y1="352.9" x2="664.6" y2="352.9" stroke="#2a2a2a" stroke-width="1.0"/>
<line x1="287.7" y1="349.16" x2="287.7" y2="348.75" stroke="#222" stroke-width="0.8"/>
<line x1="285.7" y1="348.75" x2="289.7" y2="348.75" stroke="#222" stroke-width="0.8"/>
<rect x="283.7" y="349.16" width="8" height="3.64" fill="#303030"/>
<line x1="295.7" y1="349.97" x2="295.7" y2="349.56" stroke="#888" stroke-width="0.8"/>
<line x1="293.7" y1="349.56" x2="297.7" y2="349.56" stroke="#888" stroke-width="0.8"/>
<rect x="291.7" y="349.97" width="8" height="2.83" fill="#9a9a9a"/>
<line x1="303.7" y1="349.56" x2="303.7" y2="349.16" stroke="#666" stroke-width="0.8"/>
<line x1="301.7" y1="349.16" x2="305.7" y2="349.16" stroke="#666" stroke-width="0.8"/>
<rect x="299.7" y="349.56" width="8" height="3.24" fill="#7a7a7a"/>
<line x1="311.7" y1="344.31" x2="311.7" y2="343.9" stroke="#c8c8c8" stroke-width="0.8"/>
<line x1="309.7" y1="343.9" x2="313.7" y2="343.9" stroke="#c8c8c8" stroke-width="0.8"/>
<rect x="307.7" y="344.31" width="8" height="8.49" fill="#dcdcdc"/>
<line x1="319.7" y1="324" x2="319.7" y2="317.28" stroke="#444" stroke-width="0.8"/>
<line x1="317.7" y1="317.28" x2="321.7" y2="317.28" stroke="#444" stroke-width="0.8"/>
<rect x="315.7" y="324" width="8" height="28.8" fill="url(#h1)" stroke="#555" stroke-width="0.6"/>
<line x1="327.7" y1="327.32" x2="327.7" y2="326.43" stroke="#999" stroke-width="0.8"/>
<line x1="325.7" y1="326.43" x2="329.7" y2="326.43" stroke="#999" stroke-width="0.8"/>
<rect x="323.7" y="327.32" width="8" height="25.48" fill="url(#h2)" stroke="#9a9a9a" stroke-width="0.6"/>
<line x1="335.7" y1="326.91" x2="335.7" y2="325.54" stroke="#555" stroke-width="0.8"/>
<line x1="333.7" y1="325.54" x2="337.7" y2="325.54" stroke="#555" stroke-width="0.8"/>
<rect x="331.7" y="326.91" width="8" height="25.89" fill="url(#g5)" stroke="#555" stroke-width="0.6"/>
<line x1="311.7" y1="352.9" x2="311.7" y2="356.6" stroke="#2a2a2a" stroke-width="1.0"/>
<text x="311.7" y="364.6" font-size="7.9" font-weight="bold" font-style="italic" text-anchor="middle" fill="#111">SmPAL1</text>
<line x1="352" y1="349.16" x2="352" y2="348.75" stroke="#222" stroke-width="0.8"/>
<line x1="350" y1="348.75" x2="354" y2="348.75" stroke="#222" stroke-width="0.8"/>
<rect x="348" y="349.16" width="8" height="3.64" fill="#303030"/>
<line x1="360" y1="348.19" x2="360" y2="347.78" stroke="#888" stroke-width="0.8"/>
<line x1="358" y1="347.78" x2="362" y2="347.78" stroke="#888" stroke-width="0.8"/>
<rect x="356" y="348.19" width="8" height="4.61" fill="#9a9a9a"/>
<line x1="368" y1="347.95" x2="368" y2="347.46" stroke="#666" stroke-width="0.8"/>
<line x1="366" y1="347.46" x2="370" y2="347.46" stroke="#666" stroke-width="0.8"/>
<rect x="364" y="347.95" width="8" height="4.85" fill="#7a7a7a"/>
<line x1="376" y1="344.22" x2="376" y2="343.9" stroke="#c8c8c8" stroke-width="0.8"/>
<line x1="374" y1="343.9" x2="378" y2="343.9" stroke="#c8c8c8" stroke-width="0.8"/>
<rect x="372" y="344.22" width="8" height="8.58" fill="#dcdcdc"/>
<line x1="384" y1="312.75" x2="384" y2="309.11" stroke="#444" stroke-width="0.8"/>
<line x1="382" y1="309.11" x2="386" y2="309.11" stroke="#444" stroke-width="0.8"/>
<rect x="380" y="312.75" width="8" height="40.05" fill="url(#h1)" stroke="#555" stroke-width="0.6"/>
<line x1="392" y1="312.75" x2="392" y2="309.11" stroke="#999" stroke-width="0.8"/>
<line x1="390" y1="309.11" x2="394" y2="309.11" stroke="#999" stroke-width="0.8"/>
<rect x="388" y="312.75" width="8" height="40.05" fill="url(#h2)" stroke="#9a9a9a" stroke-width="0.6"/>
<line x1="400" y1="321.82" x2="400" y2="319.06" stroke="#555" stroke-width="0.8"/>
<line x1="398" y1="319.06" x2="402" y2="319.06" stroke="#555" stroke-width="0.8"/>
<rect x="396" y="321.82" width="8" height="30.98" fill="url(#g6)" stroke="#555" stroke-width="0.6"/>
<line x1="376" y1="352.9" x2="376" y2="356.6" stroke="#2a2a2a" stroke-width="1.0"/>
<text x="376" y="364.6" font-size="7.9" font-weight="bold" font-style="italic" text-anchor="middle" fill="#111">SmC4H1</text>
<line x1="416.1" y1="350.21" x2="416.1" y2="349.89" stroke="#222" stroke-width="0.8"/>
<line x1="414.1" y1="349.89" x2="418.1" y2="349.89" stroke="#222" stroke-width="0.8"/>
<rect x="412.1" y="350.21" width="8" height="2.59" fill="#303030"/>
<line x1="424.1" y1="351.51" x2="424.1" y2="351.18" stroke="#888" stroke-width="0.8"/>
<line x1="422.1" y1="351.18" x2="426.1" y2="351.18" stroke="#888" stroke-width="0.8"/>
<rect x="420.1" y="351.51" width="8" height="1.29" fill="#9a9a9a"/>
<line x1="432.1" y1="350.62" x2="432.1" y2="350.37" stroke="#666" stroke-width="0.8"/>
<line x1="430.1" y1="350.37" x2="434.1" y2="350.37" stroke="#666" stroke-width="0.8"/>
<rect x="428.1" y="350.62" width="8" height="2.18" fill="#7a7a7a"/>
<line x1="440.1" y1="343.98" x2="440.1" y2="343.74" stroke="#c8c8c8" stroke-width="0.8"/>
<line x1="438.1" y1="343.74" x2="442.1" y2="343.74" stroke="#c8c8c8" stroke-width="0.8"/>
<rect x="436.1" y="343.98" width="8" height="8.82" fill="#dcdcdc"/>
<line x1="448.1" y1="271.09" x2="448.1" y2="263.32" stroke="#444" stroke-width="0.8"/>
<line x1="446.1" y1="263.32" x2="450.1" y2="263.32" stroke="#444" stroke-width="0.8"/>
<rect x="444.1" y="271.09" width="8" height="81.71" fill="url(#h1)" stroke="#555" stroke-width="0.6"/>
<line x1="456.1" y1="252.48" x2="456.1" y2="245.2" stroke="#999" stroke-width="0.8"/>
<line x1="454.1" y1="245.2" x2="458.1" y2="245.2" stroke="#999" stroke-width="0.8"/>
<rect x="452.1" y="252.48" width="8" height="100.32" fill="url(#h2)" stroke="#9a9a9a" stroke-width="0.6"/>
<line x1="464.1" y1="270.28" x2="464.1" y2="258.96" stroke="#555" stroke-width="0.8"/>
<line x1="462.1" y1="258.96" x2="466.1" y2="258.96" stroke="#555" stroke-width="0.8"/>
<rect x="460.1" y="270.28" width="8" height="82.52" fill="url(#g7)" stroke="#555" stroke-width="0.6"/>
<line x1="440.1" y1="352.9" x2="440.1" y2="356.6" stroke="#2a2a2a" stroke-width="1.0"/>
<text x="440.1" y="364.6" font-size="7.9" font-weight="bold" font-style="italic" text-anchor="middle" fill="#111">SmTAT1</text>
<line x1="480.2" y1="349.56" x2="480.2" y2="349.16" stroke="#222" stroke-width="0.8"/>
<line x1="478.2" y1="349.16" x2="482.2" y2="349.16" stroke="#222" stroke-width="0.8"/>
<rect x="476.2" y="349.56" width="8" height="3.24" fill="#303030"/>
<line x1="488.2" y1="350.37" x2="488.2" y2="349.97" stroke="#888" stroke-width="0.8"/>
<line x1="486.2" y1="349.97" x2="490.2" y2="349.97" stroke="#888" stroke-width="0.8"/>
<rect x="484.2" y="350.37" width="8" height="2.43" fill="#9a9a9a"/>
<line x1="496.2" y1="347.95" x2="496.2" y2="347.46" stroke="#666" stroke-width="0.8"/>
<line x1="494.2" y1="347.46" x2="498.2" y2="347.46" stroke="#666" stroke-width="0.8"/>
<rect x="492.2" y="347.95" width="8" height="4.85" fill="#7a7a7a"/>
<line x1="504.2" y1="344.55" x2="504.2" y2="344.22" stroke="#c8c8c8" stroke-width="0.8"/>
<line x1="502.2" y1="344.22" x2="506.2" y2="344.22" stroke="#c8c8c8" stroke-width="0.8"/>
<rect x="500.2" y="344.55" width="8" height="8.25" fill="#dcdcdc"/>
<line x1="512.2" y1="299.08" x2="512.2" y2="293.99" stroke="#444" stroke-width="0.8"/>
<line x1="510.2" y1="293.99" x2="514.2" y2="293.99" stroke="#444" stroke-width="0.8"/>
<rect x="508.2" y="299.08" width="8" height="53.72" fill="url(#h1)" stroke="#555" stroke-width="0.6"/>
<line x1="520.2" y1="268.66" x2="520.2" y2="245.53" stroke="#999" stroke-width="0.8"/>
<line x1="518.2" y1="245.53" x2="522.2" y2="245.53" stroke="#999" stroke-width="0.8"/>
<rect x="516.2" y="268.66" width="8" height="84.14" fill="url(#h2)" stroke="#9a9a9a" stroke-width="0.6"/>
<line x1="528.2" y1="315.99" x2="528.2" y2="315.18" stroke="#555" stroke-width="0.8"/>
<line x1="526.2" y1="315.18" x2="530.2" y2="315.18" stroke="#555" stroke-width="0.8"/>
<rect x="524.2" y="315.99" width="8" height="36.81" fill="url(#g8)" stroke="#555" stroke-width="0.6"/>
<line x1="504.2" y1="352.9" x2="504.2" y2="356.6" stroke="#2a2a2a" stroke-width="1.0"/>
<text x="504.2" y="364.6" font-size="7.9" font-weight="bold" font-style="italic" text-anchor="middle" fill="#111">SmHPPR1</text>
<line x1="544" y1="344.55" x2="544" y2="344.22" stroke="#222" stroke-width="0.8"/>
<line x1="542" y1="344.22" x2="546" y2="344.22" stroke="#222" stroke-width="0.8"/>
<rect x="540" y="344.55" width="8" height="8.25" fill="#303030"/>
<line x1="552" y1="348.19" x2="552" y2="347.78" stroke="#888" stroke-width="0.8"/>
<line x1="550" y1="347.78" x2="554" y2="347.78" stroke="#888" stroke-width="0.8"/>
<rect x="548" y="348.19" width="8" height="4.61" fill="#9a9a9a"/>
<line x1="560" y1="344.87" x2="560" y2="344.55" stroke="#666" stroke-width="0.8"/>
<line x1="558" y1="344.55" x2="562" y2="344.55" stroke="#666" stroke-width="0.8"/>
<rect x="556" y="344.87" width="8" height="7.93" fill="#7a7a7a"/>
<line x1="568" y1="344.55" x2="568" y2="344.22" stroke="#c8c8c8" stroke-width="0.8"/>
<line x1="566" y1="344.22" x2="570" y2="344.22" stroke="#c8c8c8" stroke-width="0.8"/>
<rect x="564" y="344.55" width="8" height="8.25" fill="#dcdcdc"/>
<line x1="576" y1="347.62" x2="576" y2="347.14" stroke="#444" stroke-width="0.8"/>
<line x1="574" y1="347.14" x2="578" y2="347.14" stroke="#444" stroke-width="0.8"/>
<rect x="572" y="347.62" width="8" height="5.18" fill="url(#h1)" stroke="#555" stroke-width="0.6"/>
<line x1="584" y1="344.22" x2="584" y2="343.9" stroke="#999" stroke-width="0.8"/>
<line x1="582" y1="343.9" x2="586" y2="343.9" stroke="#999" stroke-width="0.8"/>
<rect x="580" y="344.22" width="8" height="8.58" fill="url(#h2)" stroke="#9a9a9a" stroke-width="0.6"/>
<line x1="592" y1="346" x2="592" y2="345.52" stroke="#555" stroke-width="0.8"/>
<line x1="590" y1="345.52" x2="594" y2="345.52" stroke="#555" stroke-width="0.8"/>
<rect x="588" y="346" width="8" height="6.8" fill="url(#g9)" stroke="#555" stroke-width="0.6"/>
<line x1="568" y1="352.9" x2="568" y2="356.6" stroke="#2a2a2a" stroke-width="1.0"/>
<text x="568" y="364.6" font-size="7.9" font-weight="bold" font-style="italic" text-anchor="middle" fill="#111">SmRAS1</text>
<line x1="607.8" y1="347.14" x2="607.8" y2="346.81" stroke="#222" stroke-width="0.8"/>
<line x1="605.8" y1="346.81" x2="609.8" y2="346.81" stroke="#222" stroke-width="0.8"/>
<rect x="603.8" y="347.14" width="8" height="5.66" fill="#303030"/>
<line x1="615.8" y1="348.19" x2="615.8" y2="347.78" stroke="#888" stroke-width="0.8"/>
<line x1="613.8" y1="347.78" x2="617.8" y2="347.78" stroke="#888" stroke-width="0.8"/>
<rect x="611.8" y="348.19" width="8" height="4.61" fill="#9a9a9a"/>
<line x1="623.8" y1="345.92" x2="623.8" y2="345.52" stroke="#666" stroke-width="0.8"/>
<line x1="621.8" y1="345.52" x2="625.8" y2="345.52" stroke="#666" stroke-width="0.8"/>
<rect x="619.8" y="345.92" width="8" height="6.88" fill="#7a7a7a"/>
<line x1="631.8" y1="344.55" x2="631.8" y2="341.88" stroke="#c8c8c8" stroke-width="0.8"/>
<line x1="629.8" y1="341.88" x2="633.8" y2="341.88" stroke="#c8c8c8" stroke-width="0.8"/>
<rect x="627.8" y="344.55" width="8" height="8.25" fill="#dcdcdc"/>
<line x1="639.8" y1="302.24" x2="639.8" y2="283.39" stroke="#444" stroke-width="0.8"/>
<line x1="637.8" y1="283.39" x2="641.8" y2="283.39" stroke="#444" stroke-width="0.8"/>
<rect x="635.8" y="302.24" width="8" height="50.56" fill="url(#h1)" stroke="#555" stroke-width="0.6"/>
<line x1="647.8" y1="293.34" x2="647.8" y2="284.84" stroke="#999" stroke-width="0.8"/>
<line x1="645.8" y1="284.84" x2="649.8" y2="284.84" stroke="#999" stroke-width="0.8"/>
<rect x="643.8" y="293.34" width="8" height="59.46" fill="url(#h2)" stroke="#9a9a9a" stroke-width="0.6"/>
<line x1="655.8" y1="297.46" x2="655.8" y2="285.01" stroke="#555" stroke-width="0.8"/>
<line x1="653.8" y1="285.01" x2="657.8" y2="285.01" stroke="#555" stroke-width="0.8"/>
<rect x="651.8" y="297.46" width="8" height="55.34" fill="url(#g10)" stroke="#555" stroke-width="0.6"/>
<line x1="631.8" y1="352.9" x2="631.8" y2="356.6" stroke="#2a2a2a" stroke-width="1.0"/>
<text x="631.8" y="364.6" font-size="7.9" font-weight="bold" font-style="italic" text-anchor="middle" fill="#111">SmCYP98A14</text>
<line x1="287.4" y1="346.8" x2="302.6" y2="346.8" stroke="#333" stroke-width="1.0"/>
<text transform="translate(295.4,343.85) scale(0.8,1.05)" font-size="8.5" font-weight="bold" text-anchor="middle" letter-spacing="0.5" fill="#333">**</text>
<line x1="319.5" y1="314.1" x2="335.4" y2="314.1" stroke="#333" stroke-width="1.0"/>
<text transform="translate(327.7,311.15) scale(0.8,1.05)" font-size="8.5" font-weight="bold" text-anchor="middle" letter-spacing="0.5" fill="#333">**</text>
<line x1="352.4" y1="345" x2="367.6" y2="345" stroke="#333" stroke-width="1.0"/>
<text transform="translate(360,342.05) scale(0.8,1.05)" font-size="8.5" font-weight="bold" text-anchor="middle" letter-spacing="0.5" fill="#333">**</text>
<line x1="384" y1="305.2" x2="399.6" y2="305.2" stroke="#333" stroke-width="1.0"/>
<text transform="translate(391.8,302.25) scale(0.8,1.05)" font-size="8.5" font-weight="bold" text-anchor="middle" letter-spacing="0.5" fill="#333">**</text>
<line x1="416.4" y1="347.2" x2="432" y2="347.2" stroke="#333" stroke-width="1.0"/>
<text transform="translate(424.2,344.05) scale(0.8,1.05)" font-size="8.5" font-weight="bold" text-anchor="middle" letter-spacing="0.5" fill="#333">**</text>
<line x1="448.3" y1="242.5" x2="463.5" y2="242.5" stroke="#333" stroke-width="1.0"/>
<text transform="translate(456.3,239.25) scale(0.8,1.05)" font-size="8.5" font-weight="bold" text-anchor="middle" letter-spacing="0.5" fill="#333">**</text>
<line x1="480" y1="344.3" x2="496.4" y2="344.3" stroke="#333" stroke-width="1.0"/>
<text transform="translate(488.2,341.65) scale(0.8,1.05)" font-size="8.5" font-weight="bold" text-anchor="middle" letter-spacing="0.5" fill="#333">**</text>
<line x1="512.2" y1="242.5" x2="527.8" y2="242.5" stroke="#333" stroke-width="1.0"/>
<text transform="translate(520,239.25) scale(0.8,1.05)" font-size="8.5" font-weight="bold" text-anchor="middle" letter-spacing="0.5" fill="#333">**</text>
<text transform="translate(552.7,345.25) scale(0.8,1.05)" font-size="8.5" font-weight="bold" text-anchor="middle" letter-spacing="0.5" fill="#333">**</text>
<text transform="translate(576.4,344.35) scale(0.8,1.05)" font-size="8.5" font-weight="bold" text-anchor="middle" letter-spacing="0.5" fill="#333">**</text>
<text transform="translate(592.2,343.25) scale(0.8,1.05)" font-size="8.5" font-weight="bold" text-anchor="middle" letter-spacing="0.5" fill="#333">**</text>
<text transform="translate(616.6,343.15) scale(0.8,1.05)" font-size="8.5" font-weight="bold" text-anchor="middle" letter-spacing="0.5" fill="#333">*</text>
<text transform="translate(640.2,279.7) scale(0.8,1.05)" font-size="7.8" font-weight="bold" text-anchor="middle" letter-spacing="0.5" fill="#333">*</text>
<text transform="translate(648.1,281.5) scale(0.8,1.05)" font-size="7.6" font-weight="bold" text-anchor="middle" letter-spacing="0.5" fill="#333">**</text>
<text transform="translate(655.9,281.8) scale(0.8,1.05)" font-size="7.6" font-weight="bold" text-anchor="middle" letter-spacing="0.5" fill="#333">**</text>
<rect x="285.2" y="232.5" width="10.6" height="3.6" fill="#303030"/>
<text x="300.9" y="236.8" font-size="7.7" font-weight="normal" text-anchor="start" fill="#1a1a1a" stroke="#1a1a1a" stroke-width="0.22">T5A11</text>
<rect x="285.2" y="239.33" width="10.6" height="3.6" fill="#9a9a9a"/>
<text x="300.9" y="243.63" font-size="7.7" font-weight="normal" text-anchor="start" fill="#1a1a1a" stroke="#1a1a1a" stroke-width="0.22">T5A18</text>
<rect x="285.2" y="246.16" width="10.6" height="3.6" fill="#7a7a7a"/>
<text x="300.9" y="250.46" font-size="7.7" font-weight="normal" text-anchor="start" fill="#1a1a1a" stroke="#1a1a1a" stroke-width="0.22">T5A19</text>
<rect x="285.2" y="252.99" width="10.6" height="3.6" fill="#dcdcdc"/>
<text x="300.9" y="257.29" font-size="7.7" font-weight="normal" text-anchor="start" fill="#1a1a1a" stroke="#1a1a1a" stroke-width="0.22">CK</text>
<rect x="285.2" y="259.82" width="10.6" height="3.6" fill="url(#h1)" stroke="#555" stroke-width="0.5"/>
<text x="300.9" y="264.12" font-size="7.7" font-weight="normal" text-anchor="start" fill="#1a1a1a" stroke="#1a1a1a" stroke-width="0.22">T5O1</text>
<rect x="285.2" y="266.65" width="10.6" height="3.6" fill="url(#h2)" stroke="#9a9a9a" stroke-width="0.5"/>
<text x="300.9" y="270.95" font-size="7.7" font-weight="normal" text-anchor="start" fill="#1a1a1a" stroke="#1a1a1a" stroke-width="0.22">T5O10</text>
<rect x="285.2" y="273.48" width="10.6" height="3.6" fill="url(#g11)" stroke="#555" stroke-width="0.5"/>
<text x="300.9" y="277.78" font-size="7.7" font-weight="normal" text-anchor="start" fill="#1a1a1a" stroke="#1a1a1a" stroke-width="0.22">T5O11</text>
<text transform="translate(259.9,293.8) rotate(-90)" font-size="9.6" font-weight="bold" text-anchor="middle" fill="#111">Relative exepression level</text>
</svg>
</body></html>
